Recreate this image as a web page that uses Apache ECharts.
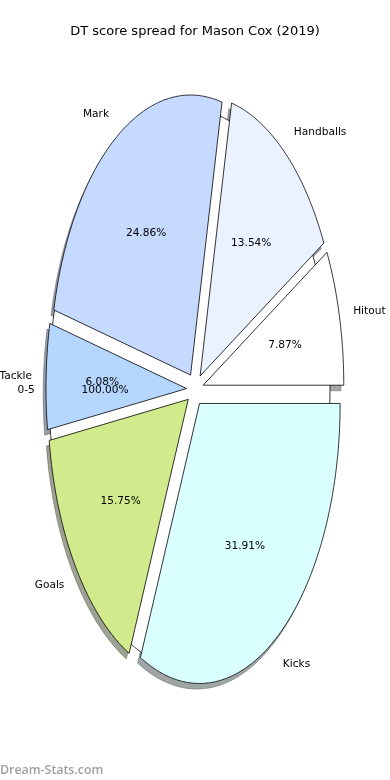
<!DOCTYPE html>
<html>
<head>
<meta charset="utf-8">
<script src="https://cdn.jsdelivr.net/npm/echarts@6/dist/echarts.min.js"></script>
<style>
html,body{margin:0;padding:0;background:#fff;}
#chart{width:390px;height:780px;}
</style>
</head>
<body>
<div id="chart"></div>
<script>
// ---- data ----
const titleText = 'DT score spread for Mason Cox (2019)';
const categories = ['Hitout', 'Handballs', 'Mark', 'Tackle', 'Goals', 'Kicks'];
const percents = [7.87, 13.54, 24.86, 6.08, 15.75, 31.91];
const sliceColors = ['#ffffff', '#eaf1ff', '#c6d9ff', '#b5d7ff', '#d0ea8c', '#daffff'];
const innerCategories = ['0-5'];
const innerPercents = [100.00];
const watermark = 'Dream-Stats.com';

// ---- layout / style constants ----
const EXPLODE = 0.06;
const INNER_EXPLODE = 0.04;
const LABEL_DIST = 1.1;
const PCT_DIST = 0.6;
const SHADOW_OFF = [-0.02, -0.02];
const FONT = '10.6px "DejaVu Sans"';
const TEXT_DY = 1.2;

function toAngles(vals) {
  const total = vals.reduce((a, b) => a + b, 0);
  let acc = 0;
  return vals.map(v => {
    const a0 = acc / total * 360;
    acc += v;
    const a1 = acc / total * 360;
    return [a0, a1];
  });
}
const mainAngles = toAngles(percents);
const innerAngles = toAngles(innerPercents);

function hexToRgb(h) {
  const n = parseInt(h.slice(1), 16);
  return [(n >> 16) & 255, (n >> 8) & 255, n & 255];
}

function arcPoints(api, ox, oy, a0, a1, withCenter) {
  const pts = [];
  if (withCenter) pts.push(api.coord([ox, oy]));
  const n = Math.max(2, Math.ceil((a1 - a0) / 0.5));
  for (let k = 0; k <= n; k++) {
    const t = (a0 + (a1 - a0) * k / n) * Math.PI / 180;
    pts.push(api.coord([ox + Math.cos(t), oy + Math.sin(t)]));
  }
  return pts;
}

function labelTexts(api, ox, oy, m, name, pct) {
  const lp = api.coord([ox + LABEL_DIST * Math.cos(m), oy + LABEL_DIST * Math.sin(m)]);
  const pp = api.coord([ox + PCT_DIST * Math.cos(m), oy + PCT_DIST * Math.sin(m)]);
  return [
    {type: 'text', z2: 10, style: {x: lp[0], y: lp[1] + TEXT_DY, text: name,
      align: Math.cos(m) >= 0 ? 'left' : 'right', verticalAlign: 'middle', font: FONT, fill: '#000'}},
    {type: 'text', z2: 10, style: {x: pp[0], y: pp[1] + TEXT_DY, text: pct.toFixed(2) + '%',
      align: 'center', verticalAlign: 'middle', font: FONT, fill: '#000'}}
  ];
}

const chart = echarts.init(document.getElementById('chart'), null, {renderer: 'canvas'});

const option = {
  animation: false,
  backgroundColor: '#ffffff',
  title: {
    text: titleText,
    left: 'center',
    top: 20,
    textStyle: {fontFamily: 'DejaVu Sans', fontSize: 13, fontWeight: 'normal', color: '#000'}
  },
  graphic: [{
    type: 'text',
    left: 0,
    top: 764,
    style: {text: watermark, fill: '#a0a0a0', font: '600 12.4px "Open Sans"'}
  }],
  grid: {left: 5.2, top: 11.3, width: 379.6, height: 756},
  xAxis: {type: 'value', min: -1.35, max: 1.35, show: false},
  yAxis: {type: 'value', min: -1.35, max: 1.35, show: false},
  series: [
    // shadows of main wedges
    {
      type: 'custom',
      z: 1,
      silent: true,
      data: mainAngles,
      renderItem: function (params, api) {
        const a0 = api.value(0), a1 = api.value(1);
        const m = (a0 + a1) / 2 * Math.PI / 180;
        const ox = EXPLODE * Math.cos(m) + SHADOW_OFF[0];
        const oy = EXPLODE * Math.sin(m) + SHADOW_OFF[1];
        const c = hexToRgb(sliceColors[params.dataIndex]);
        const col = 'rgba(' + Math.round(c[0] * 0.3) + ',' + Math.round(c[1] * 0.3) + ',' + Math.round(c[2] * 0.3) + ',0.5)';
        return {
          type: 'polygon',
          shape: {points: arcPoints(api, ox, oy, a0, a1, true)},
          style: {fill: col, stroke: col, lineWidth: 0.8}
        };
      }
    },
    // inner (100%) pie body
    {
      type: 'custom',
      z: 2,
      silent: true,
      data: innerAngles,
      renderItem: function (params, api) {
        const a0 = api.value(0), a1 = api.value(1);
        const m = (a0 + a1) / 2 * Math.PI / 180;
        const ox = INNER_EXPLODE * Math.cos(m), oy = INNER_EXPLODE * Math.sin(m);
        const full = Math.abs(a1 - a0 - 360) < 1e-9;
        return {type: 'polygon', shape: {points: arcPoints(api, ox, oy, a0, a1, !full)},
          style: {fill: '#ffffff', stroke: '#000', lineWidth: 0.8}};
      }
    },
    // main wedges
    {
      type: 'custom',
      z: 3,
      silent: true,
      data: mainAngles,
      renderItem: function (params, api) {
        const i = params.dataIndex;
        const a0 = api.value(0), a1 = api.value(1);
        const m = (a0 + a1) / 2 * Math.PI / 180;
        const ox = EXPLODE * Math.cos(m), oy = EXPLODE * Math.sin(m);
        return {
          type: 'group',
          children: [
            {type: 'polygon', shape: {points: arcPoints(api, ox, oy, a0, a1, true)},
             style: {fill: sliceColors[i], stroke: '#000', lineWidth: 0.8, lineJoin: 'miter'}}
          ].concat(labelTexts(api, ox, oy, m, categories[i], percents[i]))
        };
      }
    },
    // inner (100%) pie texts, drawn on top
    {
      type: 'custom',
      z: 4,
      silent: true,
      data: innerAngles,
      renderItem: function (params, api) {
        const i = params.dataIndex;
        const a0 = api.value(0), a1 = api.value(1);
        const m = (a0 + a1) / 2 * Math.PI / 180;
        const ox = INNER_EXPLODE * Math.cos(m), oy = INNER_EXPLODE * Math.sin(m);
        return {type: 'group', children: labelTexts(api, ox, oy, m, innerCategories[i], innerPercents[i])};
      }
    }
  ]
};
chart.setOption(option);
</script>
</body>
</html>
